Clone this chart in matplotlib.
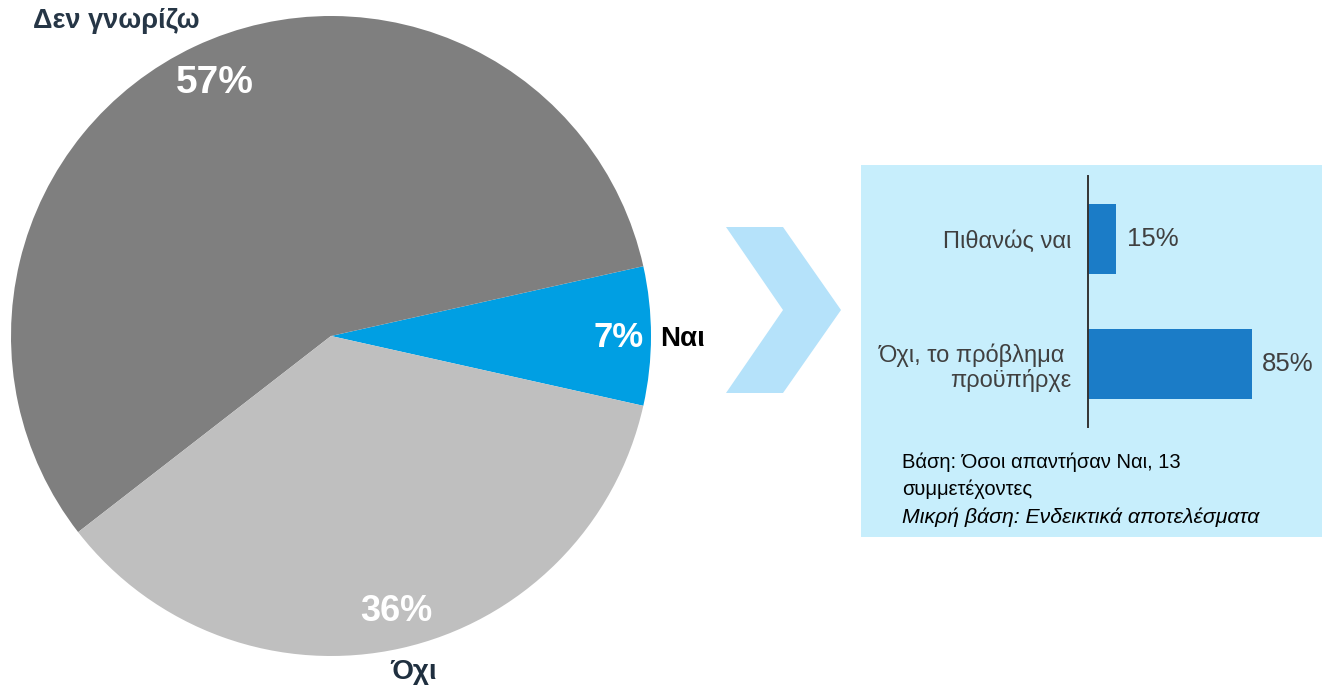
import matplotlib.pyplot as plt
from matplotlib.patches import Rectangle, Polygon

plt.rcParams['font.family'] = ['Liberation Sans', 'DejaVu Sans']

# pie data
pie_labels = ['Ναι', 'Δεν γνωρίζω', 'Όχι']
pie_values = [7, 57, 36]
pie_colors = ['#009FE3', '#7F7F7F', '#BFBFBF']

# follow-up bar data
bar_labels = ['Πιθανώς ναι', 'Όχι, το πρόβλημα \nπροϋπήρχε']
bar_values = [15, 85]

note_lines = ['Βάση: Όσοι απαντήσαν Ναι, 13', 'συμμετέχοντες']
note_italic = 'Μικρή βάση: Ενδεικτικά αποτελέσματα'

W, H = 1322, 690
fig = plt.figure(figsize=(W / 100, H / 100), dpi=100)


def fbox(x0, y0, x1, y1):
    # pixel box (top-down) -> figure fraction rect
    return [x0 / W, 1 - y1 / H, (x1 - x0) / W, (y1 - y0) / H]


# pie
ax = fig.add_axes(fbox(11, 16, 651, 656))
ax.pie(pie_values, colors=pie_colors, startangle=-12.6, counterclock=True,
       radius=1, wedgeprops=dict(linewidth=0))
ax.set_xlim(-1, 1)
ax.set_ylim(-1, 1)
ax.set_aspect('equal')
ax.axis('off')

pct_pos = [(0.90, -0.005), (-0.3625, 0.79), (0.203, -0.862)]
pct_size = [25, 28, 26]
for v, (x, y), s in zip(pie_values, pct_pos, pct_size):
    ax.text(x, y, f'{v}%', color='white', fontsize=s, fontweight='bold',
            ha='center', va='center')

ax.text(1.03, -0.01, pie_labels[0], color='black', fontsize=20,
        fontweight='bold', ha='left', va='center', clip_on=False)
ax.text(-0.672, 0.985, pie_labels[1], color='#263646', fontsize=19.5,
        fontweight='bold', ha='center', va='center', clip_on=False)
ax.text(0.259, -1.05, pie_labels[2], color='#1F2F3F', fontsize=20,
        fontweight='bold', ha='center', va='center', clip_on=False)

# chevron arrow
chev = [(726, 227), (783, 227), (841, 310), (783, 393), (726, 393), (783, 310)]
fig.patches.append(Polygon([(x / W, 1 - y / H) for x, y in chev], closed=True,
                           transform=fig.transFigure, facecolor='#B5E2FA',
                           edgecolor='none', zorder=-1))

# light blue panel
fig.patches.append(Rectangle((861 / W, 1 - 537 / H), (W - 861) / W, (537 - 165) / H,
                             transform=fig.transFigure, facecolor='#C7EEFC',
                             edgecolor='none', zorder=-1))

# bar chart in the panel
bx = fig.add_axes(fbox(1087.5, 176, 1322, 427))
bx.patch.set_alpha(0)
ypos = list(range(len(bar_values)))
bars = bx.barh(ypos, bar_values, height=0.555, color='#1B7CC7')
bx.set_xlim(0, (1322 - 1087.5) / 1.93)
bx.set_ylim(1.5, -0.5)
bx.set_yticks(ypos)
bx.set_yticklabels(bar_labels, fontsize=17, color='#404040', ha='right',
                   linespacing=1.1)
bx.tick_params(axis='y', length=0, pad=11.5)
bx.set_xticks([])
for side in ['top', 'right', 'bottom']:
    bx.spines[side].set_visible(False)
bx.spines['left'].set_color('#333333')
bx.spines['left'].set_linewidth(1.4)
bx.bar_label(bars, labels=[f'{v}%' for v in bar_values], padding=7.5,
             fontsize=18.5, color='#404040')

# base note
fig.text(902 / W, 1 - 462 / H, note_lines[0], fontsize=14.5, color='black', va='center')
fig.text(902 / W, 1 - 489 / H, note_lines[1], fontsize=14.5, color='black', va='center')
fig.text(902 / W, 1 - 517 / H, note_italic, fontsize=15.3, color='black',
         style='italic', va='center')

fig.savefig('out.png', dpi=100)
